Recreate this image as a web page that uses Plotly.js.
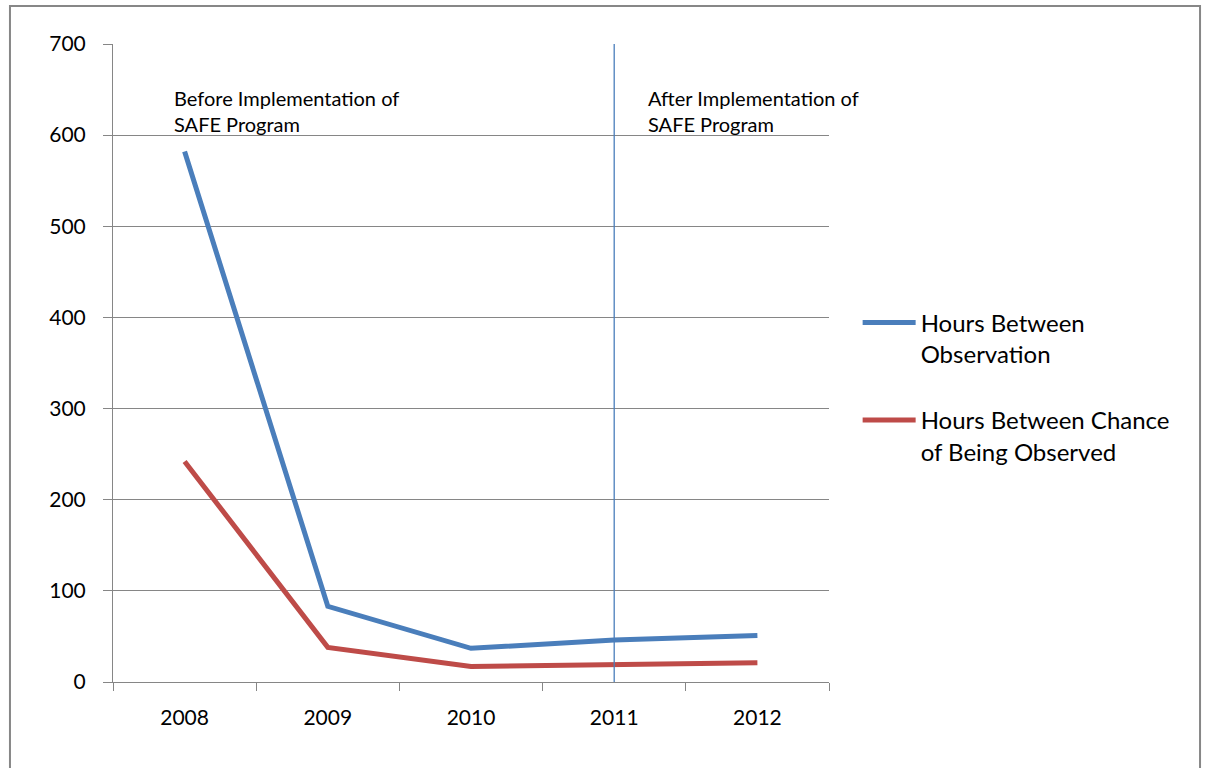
<!DOCTYPE html>
<html>
<head>
<meta charset="utf-8">
<script src="https://cdn.plot.ly/plotly-3.0.1.min.js"></script>
<style>
  html, body { margin: 0; padding: 0; background: #ffffff; }
  #chart { width: 1206px; height: 768px; }
</style>
</head>
<body>
<div id="chart"></div>
<script>
// Years on the category axis
const years = ['2008', '2009', '2010', '2011', '2012'];

// Series values (hours)
const hoursBetweenObservation = [582, 83, 37, 46, 51];
const hoursBetweenChance = [242, 38, 17, 19, 21];

// Series names shown in the legend
const seriesNames = ['Hours Between<br>Observation', 'Hours Between Chance<br>of Being Observed'];

// Year at which the program started, and the two period notes
const programStartYear = '2011';
const beforeLabel = 'Before Implementation of<br>SAFE Program';
const afterLabel = 'After Implementation of<br>SAFE Program';

const FONT = 'Lato, "Open Sans", sans-serif';
const GRID = '#868686';
const BLUE = '#4A7EBB';
const RED = '#BE4B48';

const traces = [
  {
    type: 'scatter', mode: 'lines', x: years, y: hoursBetweenObservation,
    name: seriesNames[0], legendgroup: 'a',
    line: { color: BLUE, width: 5 }
  },
  {
    type: 'scatter', mode: 'lines', x: years, y: hoursBetweenChance,
    name: seriesNames[1], legendgroup: 'b',
    line: { color: RED, width: 5 }
  }
];

// category index of the program start year, used for the marker line
const startIdx = years.indexOf(programStartYear);

const layout = {
  width: 1206, height: 768,
  margin: { l: 113, r: 377, t: 44, b: 86, pad: 0 },
  paper_bgcolor: '#ffffff', plot_bgcolor: '#ffffff',
  font: { family: FONT, color: '#000000', size: 21 },
  showlegend: true,
  legend: {
    x: 1.04, xanchor: 'left', y: 0.598, yanchor: 'top',
    font: { family: FONT, size: 24, color: '#000000' },
    valign: 'top', tracegroupgap: 32, itemwidth: 53,
    bgcolor: 'rgba(0,0,0,0)', borderwidth: 0
  },
  xaxis: {
    type: 'category', range: [-0.5, 4.5],
    showline: true, linecolor: GRID, linewidth: 1,
    ticks: 'outside', tickson: 'boundaries', ticklen: 8, tickcolor: GRID, tickwidth: 1,
    showgrid: false, zeroline: false,
    tickfont: { family: FONT, size: 21, color: '#000000' },
    ticklabelstandoff: 17, fixedrange: true
  },
  yaxis: {
    range: [0, 700], dtick: 100, tick0: 0,
    showline: true, linecolor: GRID, linewidth: 1,
    ticks: 'outside', ticklen: 9, tickcolor: GRID, tickwidth: 1,
    showgrid: true, gridcolor: GRID, gridwidth: 1,
    zeroline: false,
    tickfont: { family: FONT, size: 21, color: '#000000' },
    ticklabelstandoff: 13, fixedrange: true
  },
  shapes: [
    // outer frame of the chart
    {
      type: 'rect', xref: 'paper', yref: 'paper',
      x0: -0.1439, x1: 1.5182, y0: -0.16, y1: 1.0596,
      line: { color: '#878787', width: 2 }, fillcolor: 'rgba(0,0,0,0)', layer: 'below'
    },
    // program start marker
    {
      type: 'line', xref: 'x', yref: 'paper',
      x0: startIdx, x1: startIdx, y0: 0, y1: 1,
      line: { color: BLUE, width: 1.3 }, layer: 'above'
    }
  ],
  annotations: [
    {
      text: beforeLabel, xref: 'paper', yref: 'paper',
      x: 0.0824, y: 0.937, xanchor: 'left', yanchor: 'top', align: 'left',
      showarrow: false, font: { family: FONT, size: 20, color: '#000000' }
    },
    {
      text: afterLabel, xref: 'paper', yref: 'paper',
      x: 0.745, y: 0.937, xanchor: 'left', yanchor: 'top', align: 'left',
      showarrow: false, font: { family: FONT, size: 20, color: '#000000' }
    }
  ]
};

Plotly.newPlot('chart', traces, layout, { displayModeBar: false, staticPlot: true });
</script>
</body>
</html>
